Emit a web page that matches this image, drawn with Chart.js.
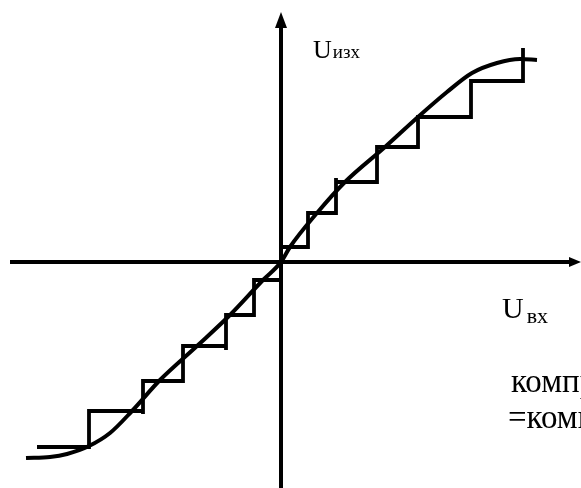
<!DOCTYPE html>
<html>
<head>
<meta charset="utf-8">
<script src="https://cdn.jsdelivr.net/npm/chart.js@4/dist/chart.umd.min.js"></script>
<style>
  html, body { margin: 0; padding: 0; background: #fff; }
  #wrap { width: 581px; height: 488px; position: relative; }
</style>
</head>
<body>
<div id="wrap"><canvas id="c"></canvas></div>
<script>
// Staircase (quantized transfer characteristic), corner points [Uвх, Uизх]
const stepX = [-244, -192, -192, -138, -138, -138, -98, -98, -55, -55, -55, -27, -27, 0, 0, 27, 27, 55, 55, 55, 96, 96, 137, 137, 190, 190, 242, 242];
const stepY = [-185, -185, -149, -149, -152, -119, -119, -84, -84, -88, -53, -53, -18, -18, 15, 15, 49, 49, 84, 80, 80, 115, 115, 145, 145, 181, 181, 214];

// Smooth (analog) transfer characteristic
const curveX = [-255, -231, -214, -192, -171, -149, -121, -84, -51, -18, 0, 9, 36, 64, 104, 137, 166, 191, 216, 239, 256];
const curveY = [-196, -195, -192, -184, -171, -149, -118, -84, -53, -18, 0, 15, 49, 80, 115, 145, 170, 189, 199, 203, 202];

// Axis extents
const axisX = [-271, 293];
const axisY = [-230, 240];

// Labels
const labelOut = ['U', 'изх'];
const labelIn = ['U', 'вх'];
const noteLines = ['компресия', '=компресия'];

const toPts = (xs, ys) => xs.map((x, i) => ({ x: x, y: ys[i] }));

const arrowsAndText = {
  id: 'arrowsAndText',
  afterDatasetsDraw(chart) {
    const ctx = chart.ctx;
    const xs = chart.scales.x, ys = chart.scales.y;
    const x0 = xs.getPixelForValue(0), y0 = ys.getPixelForValue(0);
    ctx.save();
    ctx.fillStyle = '#000';
    // vertical arrow
    const vt = ys.getPixelForValue(250);
    ctx.beginPath();
    ctx.moveTo(x0, vt);
    ctx.lineTo(x0 - 6, vt + 16);
    ctx.lineTo(x0 + 6, vt + 16);
    ctx.closePath();
    ctx.fill();
    // horizontal arrow
    const ht = xs.getPixelForValue(300);
    ctx.beginPath();
    ctx.moveTo(ht, y0);
    ctx.lineTo(ht - 12, y0 - 5);
    ctx.lineTo(ht - 12, y0 + 5);
    ctx.closePath();
    ctx.fill();

    ctx.textBaseline = 'alphabetic';
    ctx.textAlign = 'left';
    let w;
    // U изх
    ctx.font = '26px "Liberation Serif"';
    ctx.fillText(labelOut[0], 313, 58);
    w = ctx.measureText(labelOut[0]).width;
    ctx.font = '19px "Liberation Serif"';
    ctx.fillText(labelOut[1], 313 + w + 1, 58);
    // U вх
    ctx.font = '30px "Liberation Serif"';
    ctx.fillText(labelIn[0], 502, 318);
    w = ctx.measureText(labelIn[0]).width;
    ctx.font = '22px "Liberation Serif"';
    ctx.fillText(labelIn[1], 502 + w + 3, 323);
    // notes
    ctx.font = '33px "Liberation Serif"';
    ctx.fillText(noteLines[0], 511, 392);
    ctx.fillText(noteLines[1], 508, 428);
    ctx.restore();
  }
};

new Chart(document.getElementById('c'), {
  type: 'scatter',
  data: {
    datasets: [
      {
        label: 'ox',
        data: toPts(axisX, [0, 0]),
        showLine: true, borderColor: '#000', borderWidth: 4, pointRadius: 0,
        borderCapStyle: 'butt'
      },
      {
        label: 'oy',
        data: toPts([0, 0], axisY),
        showLine: true, borderColor: '#000', borderWidth: 4, pointRadius: 0,
        borderCapStyle: 'butt'
      },
      {
        label: 'steps',
        data: toPts(stepX, stepY),
        showLine: true, borderColor: '#000', borderWidth: 3.8, pointRadius: 0,
        borderJoinStyle: 'miter', borderCapStyle: 'butt', tension: 0
      },
      {
        label: 'curve',
        data: toPts(curveX, curveY),
        showLine: true, borderColor: '#000', borderWidth: 4, pointRadius: 0,
        cubicInterpolationMode: 'monotone', borderCapStyle: 'butt'
      }
    ]
  },
  options: {
    responsive: true,
    maintainAspectRatio: false,
    animation: false,
    layout: { padding: 0 },
    plugins: { legend: { display: false }, tooltip: { enabled: false } },
    scales: {
      x: { type: 'linear', min: -281, max: 300, display: false },
      y: { type: 'linear', min: -226, max: 262, display: false }
    }
  },
  plugins: [arrowsAndText]
});
</script>
</body>
</html>
